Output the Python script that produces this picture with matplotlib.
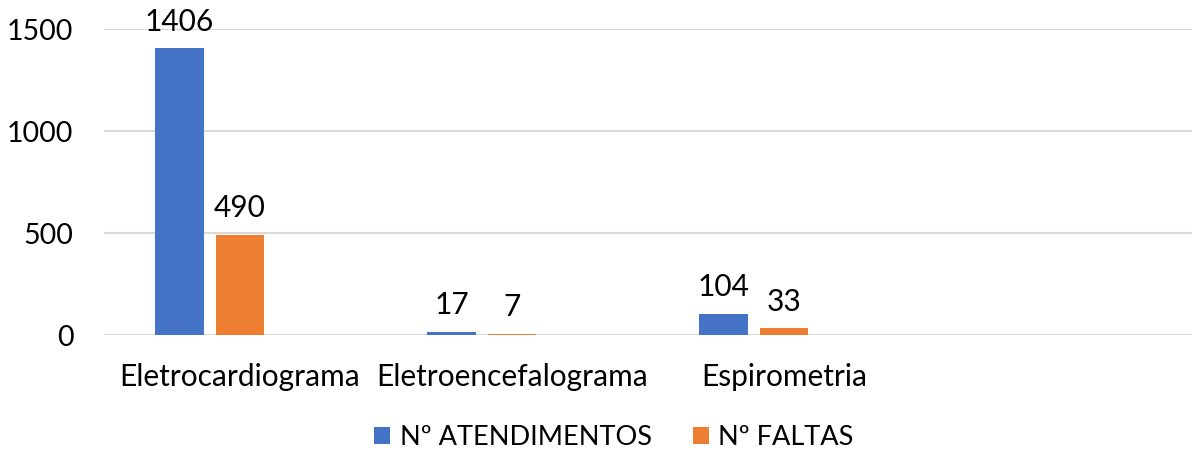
import matplotlib.pyplot as plt
import numpy as np

categories = ["Eletrocardiograma", "Eletroencefalograma", "Espirometria", ""]
atendimentos = [1406, 17, 104, np.nan]
faltas = [490, 7, 33, np.nan]
series_names = ["Nº ATENDIMENTOS", "Nº FALTAS"]
colors = ["#4472C4", "#ED7D31"]

plt.rcParams["font.family"] = ["Lato", "DejaVu Sans"]
fs = 21.5

fig = plt.figure(figsize=(11.92, 4.54), dpi=100)
ax = fig.add_axes([104 / 1192, 1 - 335 / 454, 1 - 104 / 1192, (335 - 29) / 454])

x = np.arange(len(categories))
step = 0.222
width = 0.178

for i, (vals, name, color) in enumerate(zip([atendimentos, faltas], series_names, colors)):
    bars = ax.bar(x + (i - 1) * step, vals, width, color=color, label=name, zorder=3)
    for xi, v in zip(x + (i - 1) * step, vals):
        if not np.isnan(v):
            ax.text(xi, v + 62, f"{v:g}", ha="center", va="bottom", fontsize=fs, color="#000000")

ax.set_xlim(-0.5, len(categories) - 0.5)
ax.set_ylim(0, 1500)
ax.set_yticks([0, 500, 1000, 1500])
ax.set_xticks(x)
ax.set_xticklabels(categories)
ax.tick_params(axis="both", length=0, labelsize=fs, colors="#000000")
ax.tick_params(axis="x", pad=20)
ax.tick_params(axis="y", pad=22, labelsize=20.5)
ax.grid(axis="y", color="#d9d9d9", linewidth=1.5, zorder=0)
for s in ax.spines.values():
    s.set_visible(False)

leg = fig.legend(loc="lower center", bbox_to_anchor=(0.515, -0.045), ncol=2, frameon=False,
                 fontsize=19.5, handlelength=0.6, handleheight=0.6, handletextpad=0.35,
                 columnspacing=1.5)

fig.savefig("out.png", dpi=100)
